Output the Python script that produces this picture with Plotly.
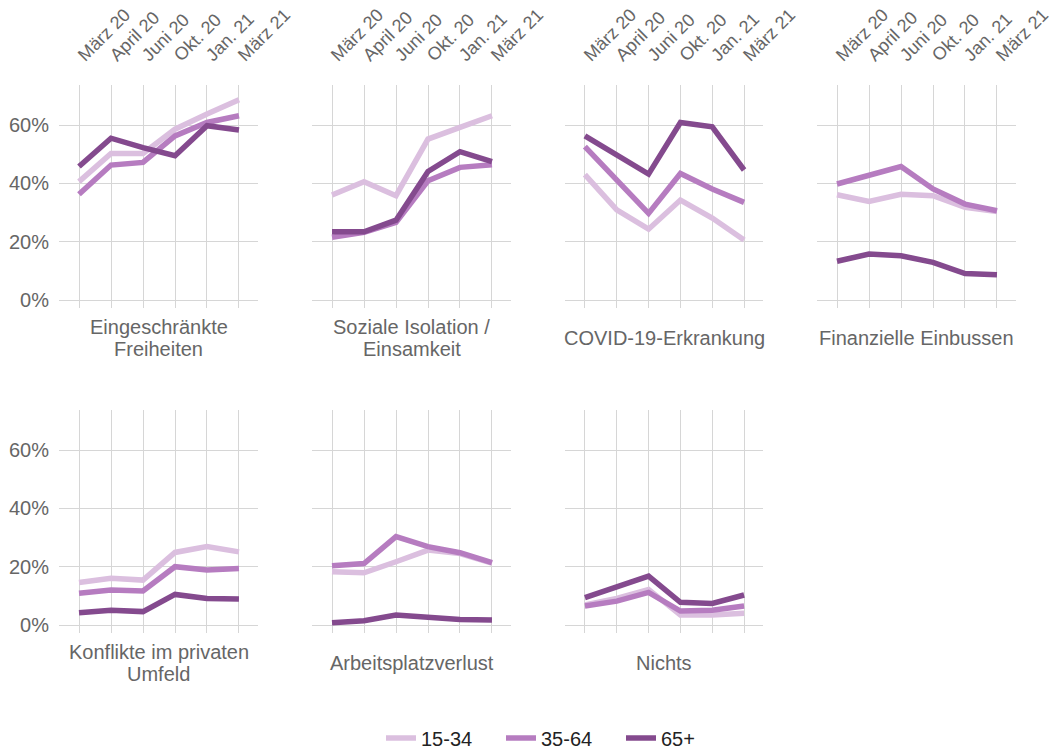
import plotly.graph_objects as go

W, H = 1051, 749

months = ["März 20", "April 20", "Juni 20", "Okt. 20", "Jan. 21", "März 21"]
groups = ["15-34", "35-64", "65+"]
group_colors = ["#dbbfdf", "#b67cc0", "#844a8e"]

panel_titles = [
    ["Eingeschränkte", "Freiheiten"],
    ["Soziale Isolation /", "Einsamkeit"],
    ["COVID-19-Erkrankung"],
    ["Finanzielle Einbussen"],
    ["Konflikte im privaten", "Umfeld"],
    ["Arbeitsplatzverlust"],
    ["Nichts"],
]

# values in percent, order: 15-34, 35-64, 65+
freiheiten_15_34 = [40.6, 50.3, 50.3, 58.6, 63.8, 68.7]
freiheiten_35_64 = [36.3, 46.3, 47.2, 56.3, 60.9, 63.2]
freiheiten_65 = [45.8, 55.5, 52.3, 49.5, 59.8, 58.3]

isolation_15_34 = [36.0, 40.6, 35.8, 55.2, 59.2, 63.2]
isolation_35_64 = [21.5, 23.2, 26.6, 40.9, 45.5, 46.4]
isolation_65 = [23.4, 23.4, 27.4, 44.1, 50.9, 47.5]

covid_15_34 = [43.0, 30.9, 24.3, 34.3, 28.1, 20.6]
covid_35_64 = [52.6, 40.9, 29.7, 43.4, 38.1, 33.5]
covid_65 = [56.3, 49.8, 43.2, 60.9, 59.4, 44.6]

finanz_15_34 = [36.1, 33.8, 36.3, 35.8, 31.8, 30.4]
finanz_35_64 = [39.8, 42.9, 45.8, 38.1, 32.9, 30.6]
finanz_65 = [13.3, 15.8, 15.2, 12.9, 9.1, 8.7]

konflikte_15_34 = [14.6, 16.0, 15.4, 24.9, 26.9, 25.1]
konflikte_35_64 = [10.9, 12.0, 11.7, 20.0, 18.9, 19.4]
konflikte_65 = [4.2, 5.1, 4.6, 10.5, 9.1, 8.9]

arbeit_15_34 = [18.3, 17.9, 21.7, 25.7, 24.5, 21.2]
arbeit_35_64 = [20.3, 21.1, 30.3, 26.9, 24.8, 21.4]
arbeit_65 = [0.8, 1.5, 3.4, 2.5, 1.9, 1.7]

nichts_15_34 = [6.9, 9.1, 12.2, 3.4, 3.4, 4.0]
nichts_35_64 = [6.5, 8.2, 11.2, 4.8, 5.1, 6.5]
nichts_65 = [9.4, 13.1, 16.8, 7.8, 7.4, 10.3]

panel_values = [
    [freiheiten_15_34, freiheiten_35_64, freiheiten_65],
    [isolation_15_34, isolation_35_64, isolation_65],
    [covid_15_34, covid_35_64, covid_65],
    [finanz_15_34, finanz_35_64, finanz_65],
    [konflikte_15_34, konflikte_35_64, konflikte_65],
    [arbeit_15_34, arbeit_35_64, arbeit_65],
    [nichts_15_34, nichts_35_64, nichts_65],
]

y_tickvals = [0, 20, 40, 60]
y_ticktext = ["0%", "20%", "40%", "60%"]

FONT = "Liberation Sans, Arial, sans-serif"
GRID = "#d6d6d6"
TEXT_GREY = "#666666"

# window-pixel layout of the panels
col_px = [(59, 258), (312, 511), (565, 763), (817, 1016)]
row_px = [(85, 308), (410, 633)]
title_center_px = [338, 663]
title_line_gap = 22


def px_x(p):
    return p / W


def px_y(p):
    return 1 - p / H


fig = go.Figure()
layout = {}
annotations = []

for i, (title, vals) in enumerate(zip(panel_titles, panel_values)):
    r, c = divmod(i, 4)
    n = i + 1
    xname = "x" if n == 1 else f"x{n}"
    yname = "y" if n == 1 else f"y{n}"
    for g, (grp, col) in enumerate(zip(groups, group_colors)):
        fig.add_trace(go.Scatter(
            x=months, y=vals[g], mode="lines", name=grp,
            line=dict(color=col, width=5.5),
            xaxis=xname, yaxis=yname,
            legendgroup=grp, showlegend=(i == 0),
            hovertemplate="%{x}: %{y:.1f}%<extra>" + grp + "</extra>",
        ))
    x0, x1 = col_px[c]
    t0, t1 = row_px[r]
    layout[f"xaxis{'' if n == 1 else n}"] = dict(
        domain=[px_x(x0), px_x(x1)], anchor=yname,
        type="category", range=[-0.625, 5.594],
        showgrid=True, gridcolor=GRID, gridwidth=1,
        zeroline=False, showline=False,
        side="top", showticklabels=(r == 0), tickangle=-45,
        ticks="outside" if r == 0 else "", ticklen=12, tickcolor="rgba(0,0,0,0)",
        tickfont=dict(family=FONT, size=18, color=TEXT_GREY),
        automargin=False, fixedrange=True,
    )
    layout[f"yaxis{'' if n == 1 else n}"] = dict(
        domain=[px_y(t1), px_y(t0)], anchor=xname,
        range=[-2.74, 73.76],
        tickvals=y_tickvals, ticktext=y_ticktext,
        showgrid=True, gridcolor=GRID, gridwidth=1,
        zeroline=False, showline=False,
        showticklabels=(c == 0),
        ticks="outside" if c == 0 else "", ticklen=5, tickcolor="rgba(0,0,0,0)",
        tickfont=dict(family=FONT, size=20, color=TEXT_GREY),
        automargin=False, fixedrange=True,
    )
    nlines = len(title)
    for k, line in enumerate(title):
        cy = title_center_px[r] + (k - (nlines - 1) / 2) * title_line_gap
        annotations.append(dict(
            text=line, xref="paper", yref="paper",
            x=px_x((x0 + x1) / 2), y=px_y(cy),
            xanchor="center", yanchor="middle", showarrow=False,
            font=dict(family=FONT, size=20, color=TEXT_GREY),
        ))

fig.update_layout(
    **layout,
    annotations=annotations,
    width=W, height=H,
    margin=dict(l=0, r=0, t=0, b=0, autoexpand=False),
    paper_bgcolor="white", plot_bgcolor="white",
    font=dict(family=FONT, color=TEXT_GREY),
    legend=dict(
        orientation="h", x=px_x(561), xanchor="center", y=px_y(738), yanchor="middle",
        font=dict(family=FONT, size=20, color="#222222"),
        itemwidth=30, entrywidth=75, entrywidthmode="pixels", tracegroupgap=0,
    ),
    showlegend=True,
)

# remove the default page margin so the figure starts at the window corner
fig.write_html(
    "out.html",
    config={"displayModeBar": False},
    post_script="document.body.style.margin='0';document.body.style.overflow='hidden';",
)
